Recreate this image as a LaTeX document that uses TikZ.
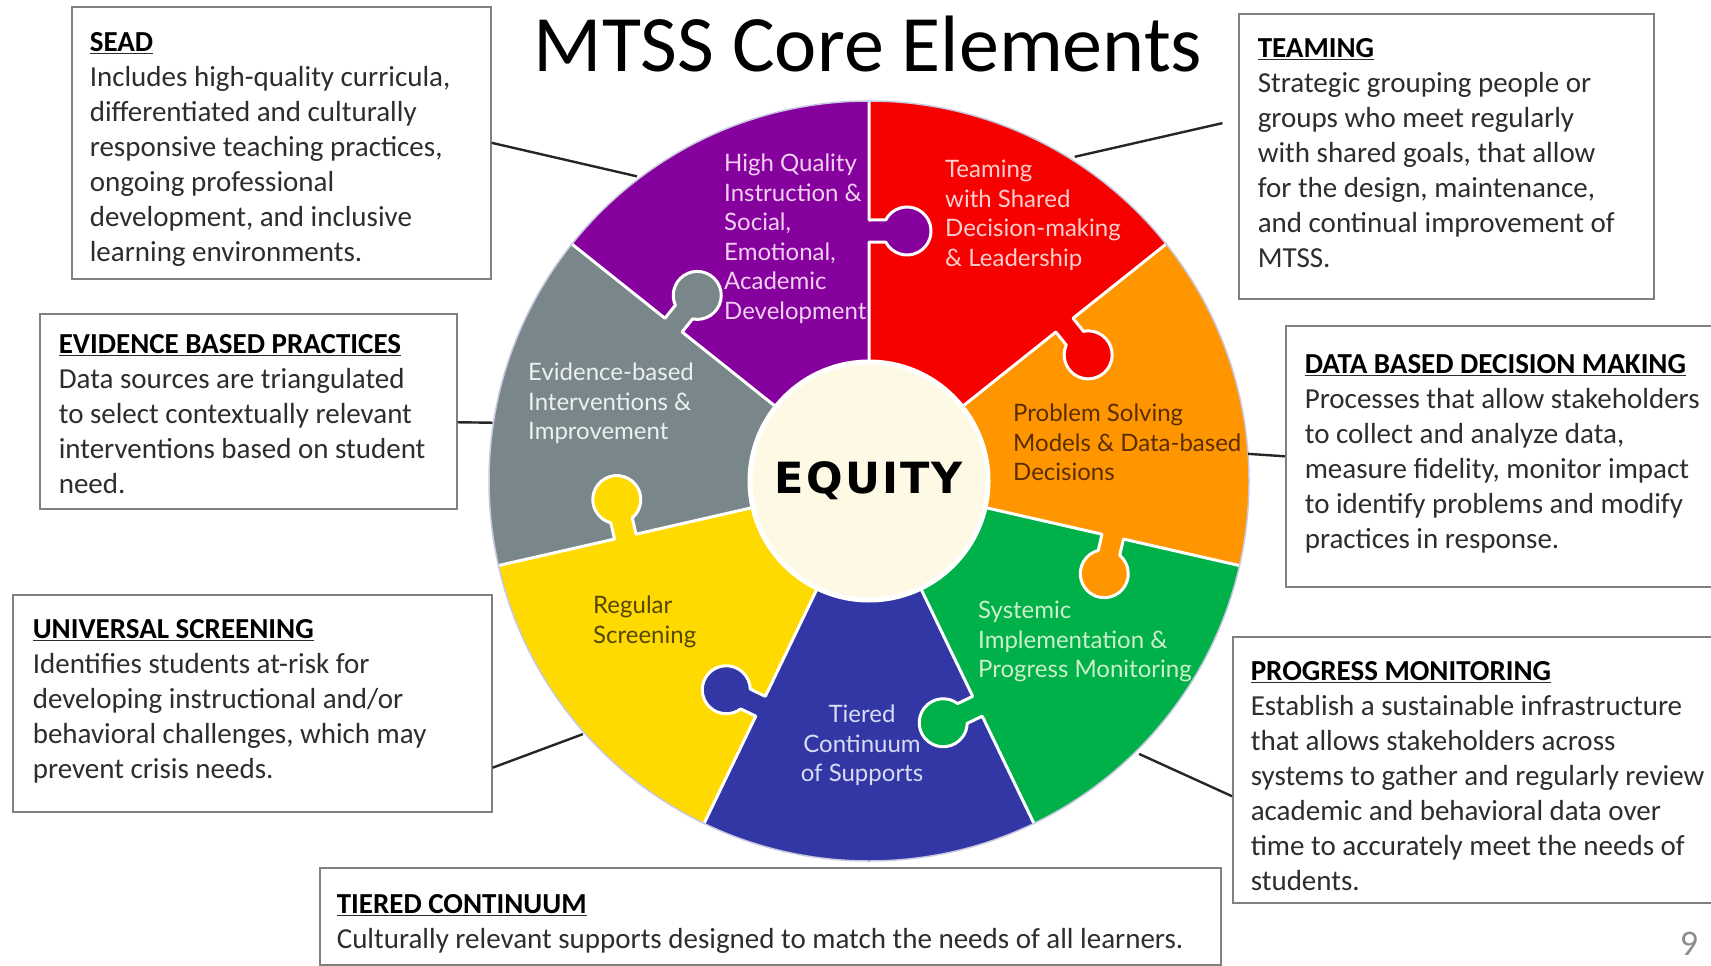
\documentclass[tikz,border=0pt]{standalone}
\usepackage{fontspec}
\setmainfont{Carlito}
\newfontfamily\gillfont{Lato}
\newfontfamily\hubfont[LetterSpace=5]{DejaVu Sans}
\usepackage{tikz}
\definecolor{plum}{RGB}{134,0,158}
\definecolor{scarlet}{RGB}{246,0,0}
\definecolor{amber}{RGB}{255,150,0}
\definecolor{leaf}{RGB}{0,176,72}
\definecolor{navy}{RGB}{50,55,165}
\definecolor{sun}{RGB}{255,218,0}
\definecolor{slate}{RGB}{122,135,138}
\definecolor{cream}{RGB}{253,249,228}
\definecolor{edge}{RGB}{128,128,128}
\definecolor{ink}{RGB}{45,45,45}
\definecolor{rimline}{RGB}{200,200,225}
\tikzset{card/.style={draw=edge,line width=1.6pt,fill=white,anchor=north west,align=flush left,inner ysep=22pt,text=ink,font=\fontsize{29}{35}\selectfont,execute at begin node={\spaceskip=0pt\xspaceskip=0pt}},lead/.style={draw=black!85,line width=2.4pt},seam/.style={draw=white,line width=3pt,line join=round},tag/.style={font=\gillfont\fontsize{24}{29.5}\selectfont,align=left,anchor=north west,inner sep=0pt,execute at begin node={\spaceskip=0pt\xspaceskip=0pt}}}
\newcommand\head[1]{\underline{\textbf{\color{black}#1}}}

\begin{document}
\begin{tikzpicture}[x=1pt,y=1pt]
\useasboundingbox (0,0) rectangle (1711,-966);
\clip (0,0) rectangle (1711,-966);

% puzzle wheel, pieces clockwise from the top left
\begin{scope}[shift={(869,-481)}]
\foreach \col [count=\i from 0] in {plum,scarlet,amber,leaf,navy,sun,slate} {
  \pgfmathsetmacro\a{141.4286-\i*51.4286}
  \fill[\col] (0,0) -- (\a:380) arc[start angle=\a, delta angle=-51.4286, radius=380] -- cycle;
}
\foreach \col [count=\i from 0] in {plum,scarlet,amber,leaf,navy,sun,slate} {
  \pgfmathsetmacro\b{90-\i*51.4286}
  \begin{scope}[rotate=\b]
    \fill[\col] (239,1.5) -- (239,-16.7) arc[start angle=117.3, end angle=422.7, radius=24] -- (261,1.5) -- cycle;
    \draw[seam] (110,0) -- (239,0) -- (239,-16.7) arc[start angle=117.3, end angle=422.7, radius=24] -- (261,0) -- (381,0);
  \end{scope}
}
\draw[rimline,line width=1.5pt] (0,0) circle[radius=380];
\node[circle,fill=cream,draw=white,line width=5pt,minimum size=238pt,inner sep=0pt,font=\hubfont\bfseries\fontsize{43}{43}\selectfont] (hub) at (0,0) {EQUITY};
\coordinate (pS) at (127.3:383);
\coordinate (pT) at (57.6:384);
\coordinate (pE) at (171.2:381);
\coordinate (pD) at (4.1:380);
\coordinate (pU) at (221.5:382);
\coordinate (pP) at (-45.3:384);
\end{scope}

\node[tag,text={rgb,255:red,242;green,208;blue,242}] (hq) at (724,-154) {High Quality\\Instruction \&\\Social,\\Emotional,\\Academic\\Development};
\node[tag,text={rgb,255:red,255;green,205;blue,205}] (tm) at (945,-160) {Teaming\\with Shared\\Decision-making\\\& Leadership};
\node[tag,text={rgb,255:red,90;green,45;blue,0}] (ps) at (1013,-404) {Problem Solving\\Models \& Data-based\\Decisions};
\node[tag,text={rgb,255:red,205;green,240;blue,205}] (si) at (978,-601) {Systemic\\Implementation \&\\Progress Monitoring};
\node[tag,anchor=north,align=center,text={rgb,255:red,215;green,220;blue,245}] (tc) at (862,-705) {Tiered\\Continuum\\of Supports};
\node[tag,text={rgb,255:red,85;green,70;blue,0}] (rs) at (593,-596) {Regular\\Screening};
\node[tag,text={rgb,255:red,235;green,240;blue,240}] (eb) at (528,-363) {Evidence-based\\Interventions \&\\Improvement};

\node[anchor=base,font=\fontsize{80}{80}\selectfont] (title) at (868,-72) {MTSS Core Elements};

\node[card,inner xsep=18pt,text width=383pt,text height=23pt,text depth=205pt] (sead) at (71,-6) {\head{SEAD}\\Includes high-quality curricula,\\differentiated and culturally\\responsive teaching practices,\\ongoing professional\\development, and inclusive\\learning environments.};
\node[card,inner xsep=19pt,text width=377pt,text height=22pt,text depth=219pt] (team) at (1238,-13) {\head{TEAMING}\\Strategic grouping people or\\groups who meet regularly\\with shared goals, that allow\\for the design, maintenance,\\and continual improvement of\\MTSS.};
\node[card,inner xsep=19pt,text width=379pt,text height=18pt,text depth=133pt] (evid) at (39,-313) {\head{EVIDENCE BASED PRACTICES}\\Data sources are triangulated\\to select contextually relevant\\interventions based on student\\need.};
\node[card,inner xsep=19pt,text width=410pt,text height=26pt,text depth=191pt] (data) at (1285,-325) {\head{DATA BASED DECISION MAKING}\\Processes that allow stakeholders\\to collect and analyze data,\\measure fidelity, monitor impact\\to identify problems and modify\\practices in response.};
\node[card,inner xsep=20pt,text width=439pt,text height=22pt,text depth=151pt] (univ) at (12,-594) {\head{UNIVERSAL SCREENING}\\Identifies students at-risk for\\developing instructional and/or\\behavioral challenges, which may\\prevent crisis needs.};
\node[card,inner xsep=18pt,text width=465pt,text height=22pt,text depth=200pt] (prog) at (1232,-636) {\head{PROGRESS MONITORING}\\Establish a sustainable infrastructure\\that allows stakeholders across\\systems to gather and regularly review\\academic and behavioral data over\\time to accurately meet the needs of\\students.};
\node[card,inner xsep=17pt,text width=867pt,text height=24pt,text depth=29pt] (tier) at (319,-867) {\head{TIERED CONTINUUM}\\Culturally relevant supports designed to match the needs of all learners.};

\node[anchor=base,text=black!45,font=\fontsize{36}{36}\selectfont] (pageno) at (1689,-955) {9};

\draw[lead] (sead.east) -- (pS);
\draw[lead,shorten <=16pt] (team.170) -- (pT);
\draw[lead] (evid.-3.5) -- (pE);
\draw[lead] (pD) -- (data.west);
\draw[lead] (univ.-15) -- (pU);
\draw[lead] (prog.186.6) -- (pP);
\end{tikzpicture}
\end{document}
